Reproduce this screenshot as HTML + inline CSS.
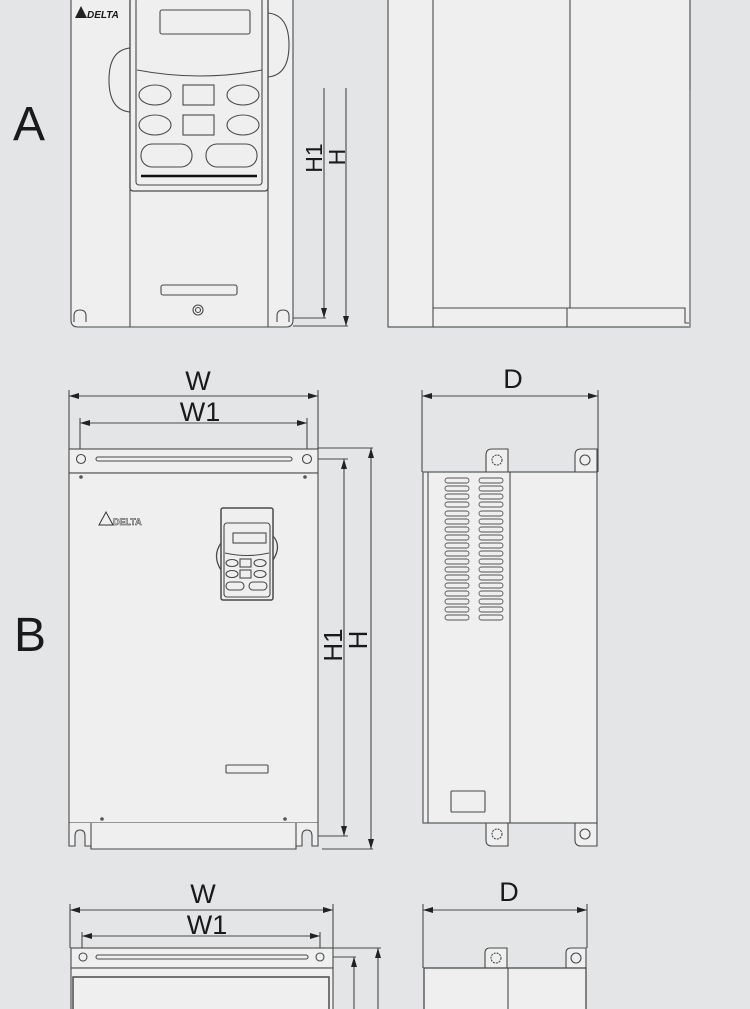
<!DOCTYPE html>
<html><head><meta charset="utf-8"><style>
html,body{margin:0;padding:0;background:#e4e5e7;}
svg{display:block;}
text{font-family:"Liberation Sans",Arial,sans-serif;fill:#1a1a1a;}
</style></head><body>
<svg width="750" height="1009" viewBox="0 0 750 1009" xmlns="http://www.w3.org/2000/svg">
<defs>
<marker id="ar" viewBox="0 0 10 6" refX="10" refY="3" markerWidth="10" markerHeight="6" orient="auto-start-reverse" markerUnits="userSpaceOnUse"><path d="M0,0 L10,3 L0,6 z" fill="#222"/></marker>
</defs>
<rect width="750" height="1009" fill="#e4e5e7"/>
<g stroke="#4a4a4a" stroke-width="1.1" fill="#eeefee">
<!-- ===== A front ===== -->
<path d="M71,-2 V320 Q71,327 78,327 H286 Q293,327 293,320 V-2"/>
<path d="M109,80 Q109,50 130,48 V112 Q109,110 109,80 Z" fill="none"/>
<path d="M289,45 Q289,15 268,13 V77 Q289,75 289,45 Z" fill="none"/>
<line x1="130" y1="0" x2="130" y2="327"/>
<line x1="268" y1="0" x2="268" y2="327"/>
<rect x="130" y="-2" width="138" height="193" rx="3" stroke-width="1.3"/>
<rect x="136" y="-2" width="126" height="187" rx="3"/>
<rect x="160" y="10" width="90" height="24" rx="2"/>
<path d="M137,70 Q200,82 262,70" fill="none"/>
<ellipse cx="155" cy="95" rx="16" ry="10"/>
<rect x="183" y="85" width="31" height="20"/>
<ellipse cx="243" cy="95" rx="16" ry="10"/>
<ellipse cx="155" cy="125" rx="16" ry="10"/>
<rect x="183" y="115" width="31" height="20"/>
<ellipse cx="243" cy="125" rx="16" ry="10"/>
<rect x="141" y="144" width="51" height="23" rx="11"/>
<rect x="206" y="144" width="51" height="23" rx="11"/>
<line x1="141" y1="176" x2="257" y2="176" stroke="#111" stroke-width="2.5"/>
<rect x="161" y="285" width="76" height="10" rx="2"/>
<circle cx="198" cy="310" r="5"/><circle cx="198" cy="310" r="2.5"/>
<path d="M74,322 V316 Q74,310 80,310 Q86,310 86,316 V322" fill="none"/>
<path d="M277,322 V316 Q277,310 283,310 Q289,310 289,316 V322" fill="none"/>
<!-- A dims -->
<line x1="293" y1="318" x2="326" y2="318"/>
<line x1="293" y1="326" x2="348" y2="326"/>
<line x1="324" y1="88" x2="324" y2="318" marker-end="url(#ar)"/>
<line x1="346" y1="88" x2="346" y2="326" marker-end="url(#ar)"/>
<!-- ===== A side ===== -->
<rect x="388" y="-2" width="302" height="329"/>
<line x1="433" y1="0" x2="433" y2="327"/>
<line x1="570" y1="0" x2="570" y2="308"/>
<path d="M433,308 H685 V323 H690" fill="none"/>
<line x1="567" y1="308" x2="567" y2="327"/>
<line x1="690" y1="90" x2="690" y2="327" stroke="#999" stroke-width="2"/>
<!-- ===== B front ===== -->
<line x1="69" y1="390" x2="69" y2="449"/>
<line x1="318" y1="390" x2="318" y2="449"/>
<line x1="80" y1="418" x2="80" y2="455"/>
<line x1="307" y1="418" x2="307" y2="455"/>
<line x1="69" y1="396" x2="318" y2="396" marker-start="url(#ar)" marker-end="url(#ar)"/>
<line x1="80" y1="423" x2="307" y2="423" marker-start="url(#ar)" marker-end="url(#ar)"/>
<rect x="69" y="449" width="249" height="24"/>
<circle cx="81" cy="459" r="4.5"/><circle cx="307" cy="459" r="4.5"/>
<rect x="96" y="457" width="196" height="4" rx="2"/>
<rect x="69" y="473" width="249" height="350"/>
<path d="M69,823 V846 H75 V836 Q75,830 80,830 Q85,830 85,836 V846 H91 V849 H296 V846 H302 V836 Q302,830 307,830 Q312,830 312,836 V846 H318 V823"/>
<line x1="91" y1="823" x2="91" y2="849"/>
<line x1="296" y1="823" x2="296" y2="849"/>
<g fill="#555" stroke="none"><circle cx="81" cy="477" r="1.8"/><circle cx="305" cy="477" r="1.8"/><circle cx="102" cy="819" r="1.8"/><circle cx="285" cy="819" r="1.8"/></g>
<rect x="226" y="765" width="42" height="8" rx="1"/>
<path d="M221,543 Q212,556 221,570" fill="none" stroke-width="1.3"/>
<path d="M273,536 Q282,546 273,560" fill="none" stroke-width="1.3"/>
<rect x="221" y="508" width="52" height="92" rx="2" stroke-width="1.5"/>
<rect x="224" y="523" width="46" height="74" rx="3"/>
<rect x="233" y="533" width="33" height="10"/>
<path d="M225,553 Q247,558 269,553" fill="none"/>
<ellipse cx="232" cy="563" rx="6" ry="3.5"/><rect x="240" y="559" width="11" height="8"/><ellipse cx="260" cy="563" rx="6" ry="3.5"/>
<ellipse cx="232" cy="574" rx="6" ry="3.5"/><rect x="240" y="570" width="11" height="8"/><ellipse cx="260" cy="574" rx="6" ry="3.5"/>
<rect x="226" y="582" width="18" height="8" rx="4"/><rect x="249" y="582" width="18" height="8" rx="4"/>
<!-- B dims -->
<line x1="318" y1="459" x2="348" y2="459"/>
<line x1="318" y1="836" x2="348" y2="836"/>
<line x1="322" y1="849" x2="373" y2="849"/>
<line x1="318" y1="448" x2="373" y2="448"/>
<line x1="344" y1="459" x2="344" y2="836" marker-start="url(#ar)" marker-end="url(#ar)"/>
<line x1="371" y1="448" x2="371" y2="849" marker-start="url(#ar)" marker-end="url(#ar)"/>
<!-- ===== B side ===== -->
<line x1="422" y1="390" x2="422" y2="472"/>
<line x1="598" y1="390" x2="598" y2="472"/>
<line x1="422" y1="396" x2="598" y2="396" marker-start="url(#ar)" marker-end="url(#ar)"/>
<path d="M486,472 V455 Q486,449 492,449 H508 V472"/>
<circle cx="497" cy="460" r="5" stroke-dasharray="2,1"/>
<path d="M575,472 V455 Q575,449 581,449 H597 V472"/>
<circle cx="585" cy="460" r="5"/>
<path d="M486,823 V840 Q486,846 492,846 H508 V823"/>
<circle cx="497" cy="834" r="5" stroke-dasharray="2,1"/>
<path d="M575,823 V840 Q575,846 581,846 H597 V823"/>
<circle cx="585" cy="834" r="5"/>
<rect x="423" y="472" width="174" height="351"/>
<line x1="428" y1="472" x2="428" y2="823"/>
<line x1="510" y1="472" x2="510" y2="823"/>
<rect x="451" y="791" width="34" height="21" rx="1"/>
</g>
<g stroke="#555" stroke-width="0.9" fill="#eeefee">
<rect x="445" y="478" width="24" height="5" rx="2.5"/><rect x="479" y="478" width="24" height="5" rx="2.5"/>
<rect x="445" y="486" width="24" height="5" rx="2.5"/><rect x="479" y="486" width="24" height="5" rx="2.5"/>
<rect x="445" y="494" width="24" height="5" rx="2.5"/><rect x="479" y="494" width="24" height="5" rx="2.5"/>
<rect x="445" y="502" width="24" height="5" rx="2.5"/><rect x="479" y="502" width="24" height="5" rx="2.5"/>
<rect x="445" y="511" width="24" height="5" rx="2.5"/><rect x="479" y="511" width="24" height="5" rx="2.5"/>
<rect x="445" y="519" width="24" height="5" rx="2.5"/><rect x="479" y="519" width="24" height="5" rx="2.5"/>
<rect x="445" y="527" width="24" height="5" rx="2.5"/><rect x="479" y="527" width="24" height="5" rx="2.5"/>
<rect x="445" y="535" width="24" height="5" rx="2.5"/><rect x="479" y="535" width="24" height="5" rx="2.5"/>
<rect x="445" y="543" width="24" height="5" rx="2.5"/><rect x="479" y="543" width="24" height="5" rx="2.5"/>
<rect x="445" y="551" width="24" height="5" rx="2.5"/><rect x="479" y="551" width="24" height="5" rx="2.5"/>
<rect x="445" y="559" width="24" height="5" rx="2.5"/><rect x="479" y="559" width="24" height="5" rx="2.5"/>
<rect x="445" y="567" width="24" height="5" rx="2.5"/><rect x="479" y="567" width="24" height="5" rx="2.5"/>
<rect x="445" y="575" width="24" height="5" rx="2.5"/><rect x="479" y="575" width="24" height="5" rx="2.5"/>
<rect x="445" y="583" width="24" height="5" rx="2.5"/><rect x="479" y="583" width="24" height="5" rx="2.5"/>
<rect x="445" y="591" width="24" height="5" rx="2.5"/><rect x="479" y="591" width="24" height="5" rx="2.5"/>
<rect x="445" y="599" width="24" height="5" rx="2.5"/><rect x="479" y="599" width="24" height="5" rx="2.5"/>
<rect x="445" y="607" width="24" height="5" rx="2.5"/><rect x="479" y="607" width="24" height="5" rx="2.5"/>
<rect x="445" y="615" width="24" height="5" rx="2.5"/><rect x="479" y="615" width="24" height="5" rx="2.5"/>
</g>
<g stroke="#4a4a4a" stroke-width="1.1" fill="#eeefee">
<!-- ===== C front ===== -->
<line x1="70" y1="904" x2="70" y2="948"/>
<line x1="333" y1="904" x2="333" y2="948"/>
<line x1="82" y1="932" x2="82" y2="955"/>
<line x1="320" y1="932" x2="320" y2="955"/>
<line x1="70" y1="910" x2="333" y2="910" marker-start="url(#ar)" marker-end="url(#ar)"/>
<line x1="82" y1="936" x2="320" y2="936" marker-start="url(#ar)" marker-end="url(#ar)"/>
<rect x="71" y="948" width="262" height="20"/>
<circle cx="83" cy="957" r="4"/><circle cx="320" cy="957" r="4"/>
<rect x="96" y="955" width="212" height="4" rx="2"/>
<rect x="71" y="968" width="262" height="45"/>
<rect x="73" y="977" width="256" height="40" stroke-width="1.5"/>
<line x1="333" y1="948" x2="381" y2="948"/>
<line x1="333" y1="957" x2="356" y2="957"/>
<line x1="354" y1="957" x2="354" y2="1012" marker-start="url(#ar)"/>
<line x1="378" y1="948" x2="378" y2="1012" marker-start="url(#ar)"/>
<!-- ===== C side ===== -->
<line x1="423" y1="904" x2="423" y2="968"/>
<line x1="587" y1="904" x2="587" y2="948"/>
<line x1="423" y1="910" x2="587" y2="910" marker-start="url(#ar)" marker-end="url(#ar)"/>
<path d="M485,968 V953 Q485,948 490,948 H507 V968"/>
<circle cx="496" cy="958" r="5" stroke-dasharray="2,1"/>
<path d="M566,968 V953 Q566,948 571,948 H586 V968"/>
<circle cx="576" cy="958" r="5"/>
<rect x="424" y="968" width="162" height="45" stroke-width="1.3"/>
<line x1="508" y1="968" x2="508" y2="1009"/>
</g>
<!-- logos -->
<g font-weight="bold">
<path d="M75,18 L81,6 L87,18 Z" fill="#222"/>
<text x="87" y="18" font-size="10" style="font-style:italic">DELTA</text>
<path d="M99,525 L106,512 L113,525 Z" fill="none" stroke="#333"/>
<text x="113" y="525" font-size="9" stroke="#333" stroke-width="0.5" style="fill:none">DELTA</text>
</g>
<!-- labels -->
<text x="13" y="140" font-size="48">A</text>
<text x="14" y="651" font-size="48">B</text>
<text x="198" y="390" font-size="27" text-anchor="middle">W</text>
<text x="200" y="421" font-size="27" text-anchor="middle">W1</text>
<text x="513" y="388" font-size="27" text-anchor="middle">D</text>
<text x="203" y="903" font-size="27" text-anchor="middle">W</text>
<text x="207" y="934" font-size="27" text-anchor="middle">W1</text>
<text x="509" y="901" font-size="27" text-anchor="middle">D</text>
<text transform="translate(322,158) rotate(-90)" font-size="23" text-anchor="middle">H1</text>
<text transform="translate(345,157) rotate(-90)" font-size="23" text-anchor="middle">H</text>
<text transform="translate(342,645) rotate(-90)" font-size="26" text-anchor="middle">H1</text>
<text transform="translate(367,640) rotate(-90)" font-size="26" text-anchor="middle">H</text>
</svg>
</body></html>
